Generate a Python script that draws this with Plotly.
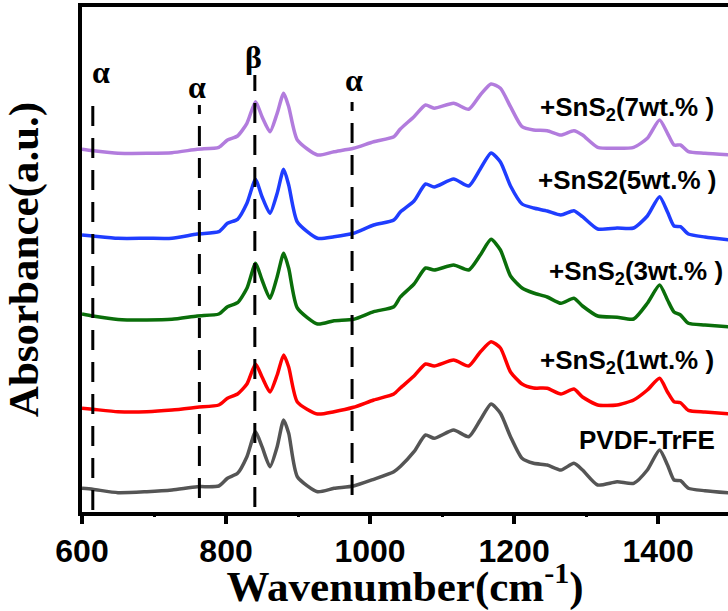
import plotly.graph_objects as go

# Wavenumber grid (cm^-1)
wavenumber = [600, 615, 650, 690, 725, 760, 790, 802, 816, 829, 841, 850, 861, 871, 880, 887, 899,
              927, 950, 977, 1005, 1033, 1042, 1061, 1077, 1089, 1116, 1137, 1153, 1168, 1181, 1195,
              1211, 1227, 1246, 1265, 1283, 1295, 1316, 1343, 1366, 1385, 1402, 1413, 1422, 1431,
              1442, 1465, 1500]

# Absorbance (a.u., stacked with offsets as in the figure)
pvdf_trfe = [0.237, 0.227, 0.193, 0.203, 0.22, 0.253, 0.26, 0.337, 0.387, 0.553, 0.803, 0.653, 0.453,
             0.653, 0.92, 0.787, 0.353, 0.203, 0.237, 0.26, 0.327, 0.403, 0.455, 0.603, 0.77, 0.737,
             0.82, 0.753, 0.92, 1.08, 0.987, 0.753, 0.537, 0.487, 0.47, 0.42, 0.487, 0.42, 0.27,
             0.303, 0.287, 0.42, 0.62, 0.47, 0.32, 0.313, 0.237, 0.213, 0.19]
sns2_1wt = [1.037, 1.027, 1.003, 1.003, 1.02, 1.047, 1.07, 1.137, 1.18, 1.28, 1.48, 1.35, 1.20, 1.37,
            1.57, 1.45, 1.10, 0.98, 1.003, 1.047, 1.12, 1.18, 1.24, 1.36, 1.48, 1.46, 1.52, 1.46,
            1.60, 1.703, 1.64, 1.40, 1.28, 1.24, 1.237, 1.18, 1.23, 1.15, 1.07, 1.07, 1.12, 1.22,
            1.337, 1.20, 1.103, 1.093, 1.017, 1.0, 0.98]
sns2_3wt = [1.98, 1.96, 1.925, 1.92, 1.927, 1.96, 1.98, 2.053, 2.093, 2.237, 2.487, 2.32, 2.137, 2.353,
            2.587, 2.437, 2.04, 1.88, 1.913, 1.927, 2.003, 2.053, 2.15, 2.28, 2.44, 2.42, 2.47, 2.42,
            2.57, 2.727, 2.62, 2.36, 2.24, 2.19, 2.15, 2.087, 2.137, 2.06, 1.96, 1.947, 1.93, 2.087,
            2.27, 2.12, 2.0, 1.97, 1.887, 1.87, 1.85]
sns2_5wt = [2.77, 2.76, 2.737, 2.737, 2.737, 2.78, 2.803, 2.887, 2.927, 3.087, 3.327, 3.153, 2.987, 3.187,
            3.427, 3.27, 2.9, 2.737, 2.753, 2.787, 2.87, 2.92, 3.0, 3.11, 3.28, 3.25, 3.33, 3.26,
            3.43, 3.59, 3.5, 3.26, 3.08, 3.04, 3.01, 2.97, 3.013, 2.953, 2.83, 2.84, 2.84, 2.96,
            3.153, 3.0, 2.86, 2.853, 2.78, 2.75, 2.72]
sns2_7wt = [3.627, 3.613, 3.587, 3.587, 3.593, 3.627, 3.647, 3.72, 3.76, 3.887, 4.103, 3.953, 3.803,
            3.987, 4.187, 4.053, 3.72, 3.57, 3.603, 3.637, 3.703, 3.753, 3.83, 3.953, 4.07, 4.037,
            4.087, 4.027, 4.17, 4.28, 4.237, 4.053, 3.853, 3.82, 3.813, 3.77, 3.813, 3.77, 3.647,
            3.637, 3.647, 3.737, 3.92, 3.787, 3.67, 3.67, 3.603, 3.587, 3.57]

series_names = ["PVDF-TrFE", "+SnS<sub>2</sub>(1wt.% )", "+SnS<sub>2</sub>(3wt.% )",
                "+SnS2(5wt.% )", "+SnS<sub>2</sub>(7wt.% )"]
series_values = [pvdf_trfe, sns2_1wt, sns2_3wt, sns2_5wt, sns2_7wt]
series_colors = ["#555555", "#FF0000", "#0A6E0A", "#1F3DFF", "#B27CDD"]
label_x = [1287, 1233, 1246, 1230, 1233]
label_y = [0.72, 1.51, 2.40, 3.32, 4.04]

# Characteristic bands (dashed markers)
band_pos = [615, 763, 840, 975]
band_label = ["α", "α", "β", "α"]
band_top = [4.15, 4.07, 4.37, 4.10]
band_bottom = [0.02, 0.14, 0.05, 0.17]
band_label_x = [627, 760, 838, 978]
band_label_y = [4.40, 4.25, 4.55, 4.32]

# Major / minor tick positions
major_ticks = [600, 800, 1000, 1200, 1400]
minor_ticks = [700, 900, 1100, 1300, 1500]

fig = go.Figure()

for xb, yt, yb in zip(band_pos, band_top, band_bottom):
    fig.add_trace(go.Scatter(x=[xb, xb], y=[yb, yt], mode="lines", xaxis="x2",
                             line=dict(color="black", width=3, dash="20px,12px"),
                             showlegend=False, hoverinfo="skip"))

for name, vals, col in zip(series_names, series_values, series_colors):
    fig.add_trace(go.Scatter(x=wavenumber, y=vals, mode="lines", name=name,
                             line=dict(color=col, width=3.5, shape="spline", smoothing=0.6),
                             showlegend=False))

for name, lx, ly in zip(series_names, label_x, label_y):
    fig.add_annotation(x=lx, y=ly, text=name, showarrow=False, xanchor="left", yanchor="middle",
                       font=dict(family="Liberation Sans", size=26, color="black", weight="bold"))

for lab, lx, ly in zip(band_label, band_label_x, band_label_y):
    fig.add_annotation(x=lx, y=ly, text=lab, showarrow=False, xanchor="center", yanchor="middle",
                       font=dict(family="Liberation Serif", size=32, color="black", weight="bold"))

fig.update_layout(
    width=728, height=611,
    margin=dict(l=82, r=0, t=7, b=99),
    paper_bgcolor="white", plot_bgcolor="white",
    xaxis=dict(range=[600, 1497], showgrid=False, zeroline=False,
               showline=True, linewidth=4, linecolor="black", mirror=True,
               ticks="outside", ticklen=8, tickwidth=4, tickcolor="black",
               tickmode="array", tickvals=major_ticks,
               tickfont=dict(family="Liberation Sans", size=32, color="black", weight="bold"),
               title=dict(text="Wavenumber(cm<sup>-1</sup>)", standoff=4,
                          font=dict(family="Liberation Serif", size=43, color="black", weight="bold"))),
    xaxis2=dict(range=[600, 1497], overlaying="x", side="bottom", showgrid=False, zeroline=False,
                showline=False, ticks="outside", ticklen=4, tickwidth=3, tickcolor="black",
                tickmode="array", tickvals=minor_ticks, showticklabels=False),
    yaxis=dict(range=[0, 5.05], showgrid=False, zeroline=False,
               showline=True, linewidth=4, linecolor="black", mirror=False,
               showticklabels=False, ticks="",
               title=dict(text="Absorbance(a.u.)", standoff=35,
                          font=dict(family="Liberation Serif", size=43, color="black", weight="bold"))),
)

fig.write_html("out.html")
